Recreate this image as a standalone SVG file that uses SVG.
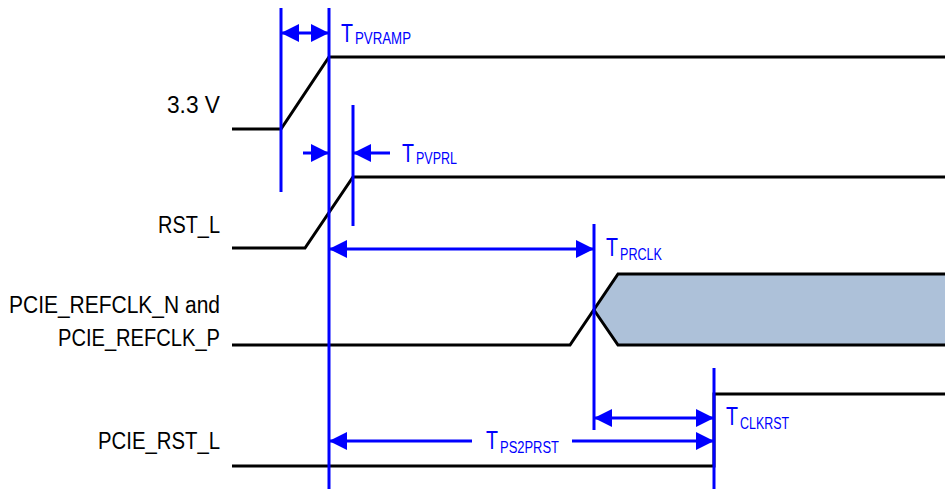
<svg xmlns="http://www.w3.org/2000/svg" width="945" height="489" viewBox="0 0 945 489">
<style>
.sig{fill:none;stroke:#000;stroke-width:3;stroke-linejoin:miter}
.vl{stroke:#0000ff;stroke-width:3;fill:none}
.ar{stroke:#0000ff;stroke-width:3;fill:none;marker-end:url(#ah)}
.ar2{stroke:#0000ff;stroke-width:3;fill:none;marker-end:url(#ah);marker-start:url(#ah)}
.lbl{font-family:"Liberation Sans",Arial,sans-serif;font-size:23px;fill:#000;text-anchor:end}
.tm{font-family:"Liberation Sans",Arial,sans-serif;fill:#0000ff}
.tb{font-size:26px}
.ts{font-size:16px}
</style>
<defs>
<marker id="ah" viewBox="0 0 18 18" refX="18" refY="9" markerWidth="18" markerHeight="18" orient="auto-start-reverse" markerUnits="userSpaceOnUse">
<path d="M0,0 L18,9 L0,18 z" fill="#0000ff"/>
</marker>
</defs>

<g id="labels">
<text class="lbl" x="220" y="113" textLength="53" lengthAdjust="spacingAndGlyphs">3.3 V</text>
<text class="lbl" x="220" y="233" textLength="62" lengthAdjust="spacingAndGlyphs">RST_L</text>
<text class="lbl" x="220" y="313" textLength="211" lengthAdjust="spacingAndGlyphs">PCIE_REFCLK_N and</text>
<text class="lbl" x="220" y="346" textLength="162" lengthAdjust="spacingAndGlyphs">PCIE_REFCLK_P</text>
<text class="lbl" x="220" y="449" textLength="122" lengthAdjust="spacingAndGlyphs">PCIE_RST_L</text>
</g>

<g id="sig-3v3">
<polyline class="sig" points="232,129 281,129 329,57 945,57"/>
</g>
<g id="sig-rst">
<polyline class="sig" points="232,248 305,248 353,177 945,177"/>
</g>
<g id="sig-refclk">
<path d="M594,310 L618,274 L945,274 L945,345 L618,345 Z" fill="#adc1d9" stroke="none"/>
<polyline class="sig" points="232,345 570,345 618,274 945,274"/>
<polyline class="sig" points="594,310 618,345 945,345"/>
</g>
<g id="sig-pcierst">
<polyline class="sig" points="232,466 714,466 714,394 945,394"/>
</g>

<g id="connectors">
<line class="vl" x1="281" y1="8" x2="281" y2="192"/>
<line class="vl" x1="329" y1="8" x2="329" y2="489"/>
<line class="vl" x1="353" y1="105" x2="353" y2="226"/>
<line class="vl" x1="594" y1="224" x2="594" y2="430"/>
<line class="vl" x1="714" y1="368" x2="714" y2="489"/>

<line class="ar2" x1="281" y1="33" x2="329" y2="33"/>
<line class="ar" x1="303" y1="153" x2="329" y2="153"/>
<line class="ar" x1="390" y1="153" x2="353" y2="153"/>
<line class="ar2" x1="329" y1="249" x2="594" y2="249"/>
<line class="ar2" x1="594" y1="418" x2="714" y2="418"/>
<line class="ar" x1="472" y1="441" x2="329" y2="441"/>
<line class="ar" x1="572" y1="441" x2="714" y2="441"/>
</g>

<g id="timing-labels">
<text class="tm tb" x="341" y="42" textLength="12" lengthAdjust="spacingAndGlyphs">T</text>
<text class="tm ts" x="355" y="44" textLength="56" lengthAdjust="spacingAndGlyphs">PVRAMP</text>
<text class="tm tb" x="402" y="162" textLength="12" lengthAdjust="spacingAndGlyphs">T</text>
<text class="tm ts" x="416" y="164" textLength="41" lengthAdjust="spacingAndGlyphs">PVPRL</text>
<text class="tm tb" x="606" y="256" textLength="12" lengthAdjust="spacingAndGlyphs">T</text>
<text class="tm ts" x="620" y="260" textLength="42" lengthAdjust="spacingAndGlyphs">PRCLK</text>
<text class="tm tb" x="726" y="425" textLength="12" lengthAdjust="spacingAndGlyphs">T</text>
<text class="tm ts" x="740" y="429" textLength="49" lengthAdjust="spacingAndGlyphs">CLKRST</text>
<text class="tm tb" x="486" y="449" textLength="12" lengthAdjust="spacingAndGlyphs">T</text>
<text class="tm ts" x="500" y="453" textLength="59" lengthAdjust="spacingAndGlyphs">PS2PRST</text>
</g>
</svg>
